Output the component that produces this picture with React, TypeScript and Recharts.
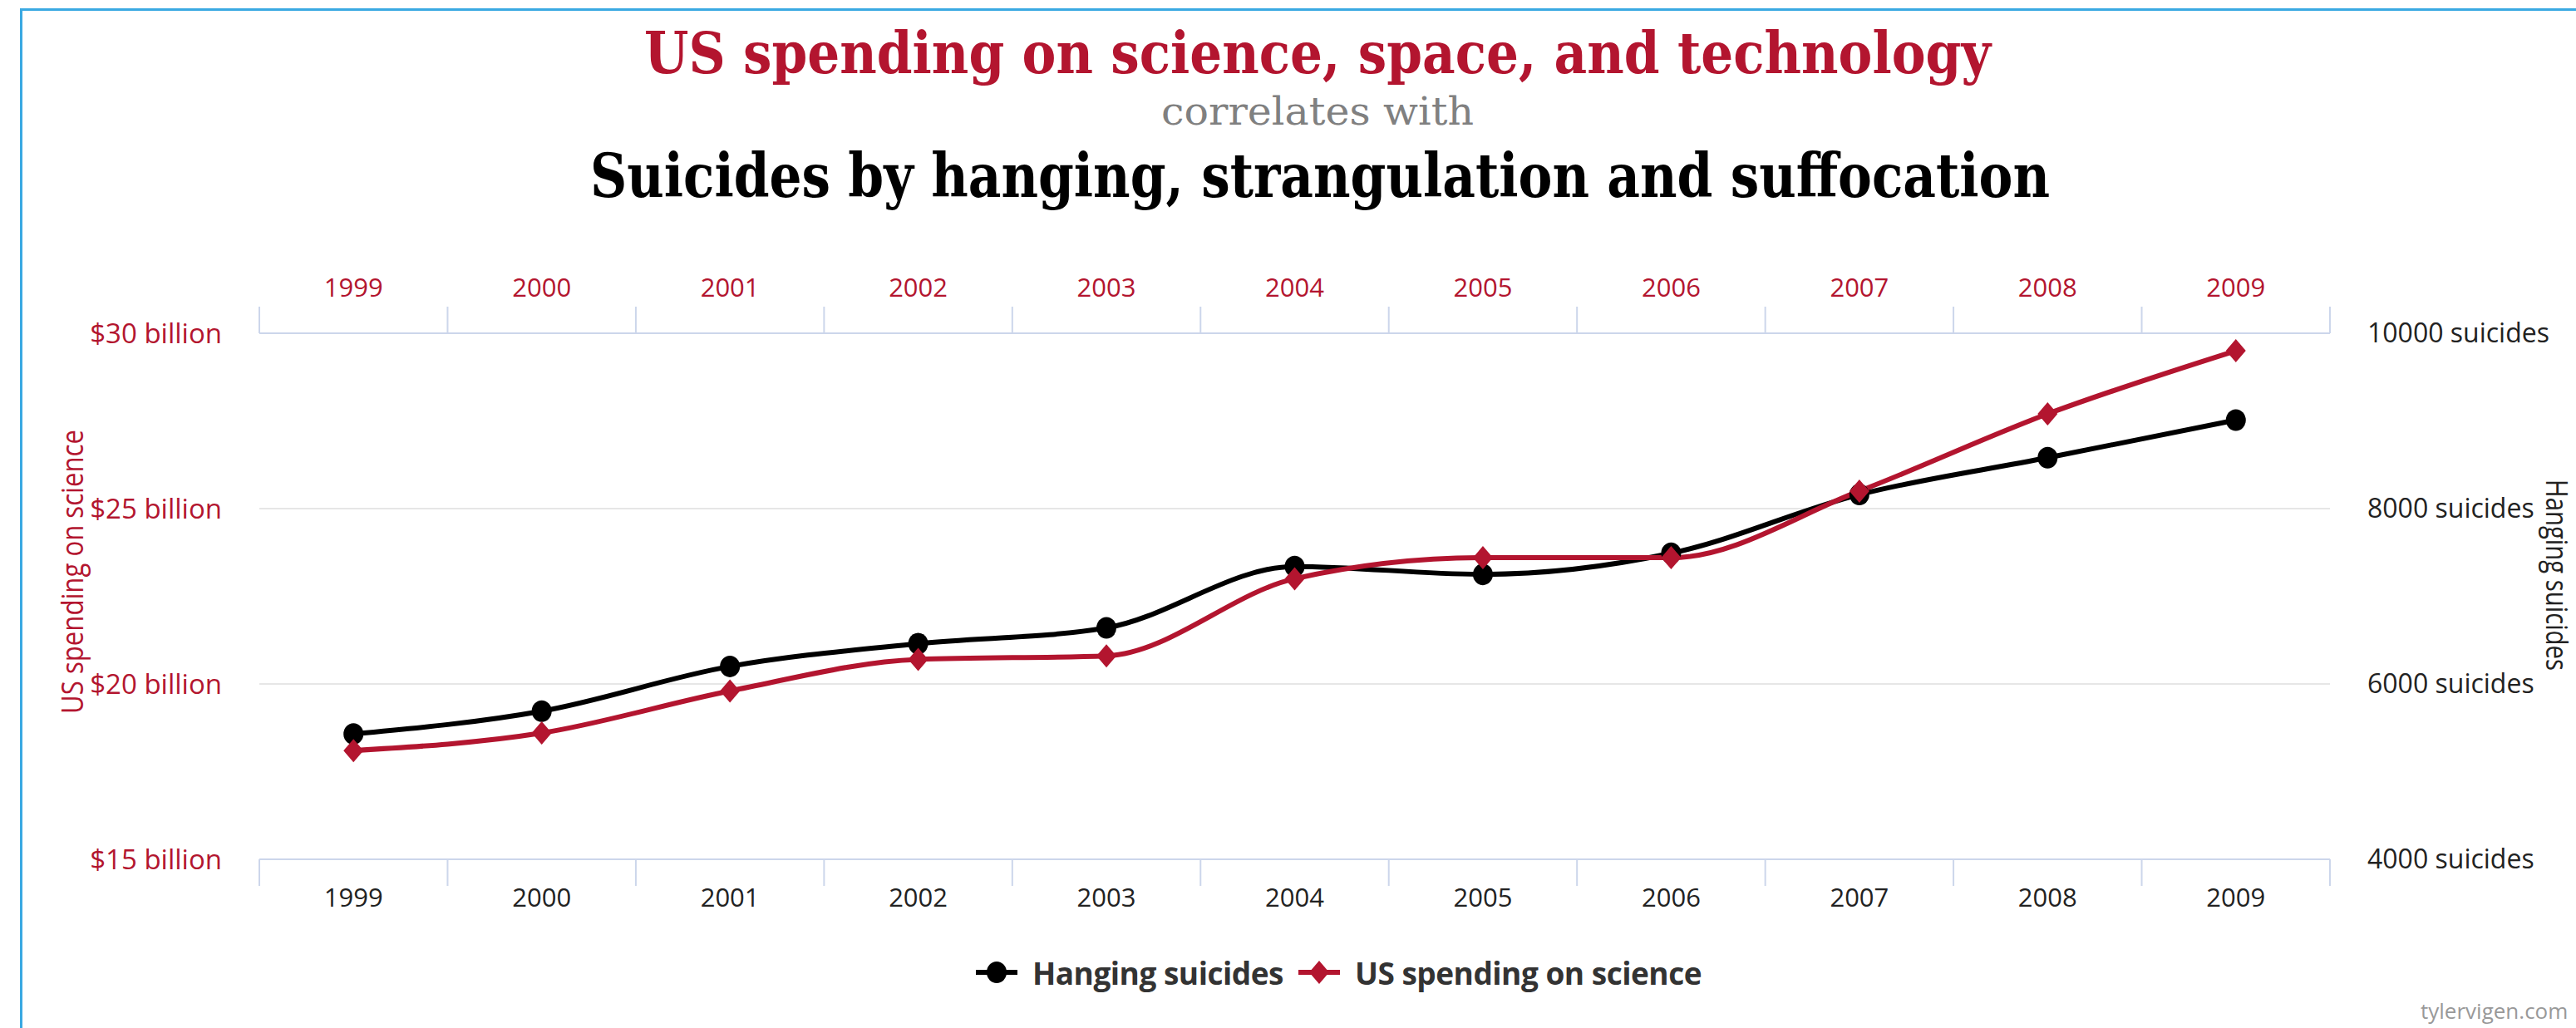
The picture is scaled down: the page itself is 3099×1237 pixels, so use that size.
import React from "react";
import {
  LineChart,
  Line,
  XAxis,
  YAxis,
  CartesianGrid,
  Legend,
} from "recharts";

const years = [1999, 2000, 2001, 2002, 2003, 2004, 2005, 2006, 2007, 2008, 2009];
// billions of dollars
const spending = [18.1, 18.6, 19.8, 20.7, 20.8, 23.0, 23.6, 23.6, 25.5, 27.7, 29.5];
// suicides per year
const suicides = [5430, 5690, 6200, 6460, 6640, 7340, 7250, 7490, 8160, 8580, 9010];

const spendingTicks = [15, 20, 25, 30];
const suicideTicks = [4000, 6000, 8000, 10000];

const W = 3099;
const H = 1237;
const RED = "#b3152f";
const AXIS = "#ccd6eb";
const FONT = "'Open Sans', sans-serif";
const TICK_SIZE = 32;
const TICK_MARGIN = 12;

const data = years.map((year, i) => ({
  year,
  spending: spending[i],
  suicides: suicides[i],
}));

// labels on the years, tick marks on the boundaries between them
const xTicks = [years[0] - 0.5, ...years.flatMap((y) => [y, y + 0.5])];

function YearTick(props: any) {
  const { x, y, payload, side } = props;
  const v = payload.value;
  if (!Number.isInteger(v)) {
    const y1 = side === "top" ? y + TICK_MARGIN : y - TICK_MARGIN - TICK_SIZE;
    return (
      <line x1={x} x2={x} y1={y1} y2={y1 + TICK_SIZE} stroke={AXIS} strokeWidth={2} />
    );
  }
  return (
    <text
      x={x}
      y={side === "top" ? y : y + 13}
      textAnchor="middle"
      fontFamily={FONT}
      fontSize={31}
      fill={side === "top" ? RED : "#222"}
    >
      {v}
    </text>
  );
}

function CircleDot(props: any) {
  const { cx, cy, index } = props;
  return <ellipse key={"c" + index} cx={cx} cy={cy} rx={12} ry={13} fill="#000" />;
}

function DiamondDot(props: any) {
  const { cx, cy, index } = props;
  return (
    <path
      key={"d" + index}
      d={`M${cx},${cy - 14} L${cx + 12},${cy} L${cx},${cy + 14} L${cx - 12},${cy} Z`}
      fill={RED}
    />
  );
}

function LegendIcon({ kind }: { kind: "circle" | "diamond" }) {
  const color = kind === "circle" ? "#000" : RED;
  return (
    <svg width={50} height={32} style={{ display: "block" }}>
      <line x1={0} x2={50} y1={16} y2={16} stroke={color} strokeWidth={6} />
      {kind === "circle" ? (
        <ellipse cx={25} cy={16} rx={12} ry={13} fill={color} />
      ) : (
        <path d="M25,2 L37,16 L25,30 L13,16 Z" fill={color} />
      )}
    </svg>
  );
}

function LegendContent() {
  const items: { label: string; kind: "circle" | "diamond" }[] = [
    { label: "Hanging suicides", kind: "circle" },
    { label: "US spending on science", kind: "diamond" },
  ];
  return (
    <div
      style={{
        display: "flex",
        justifyContent: "center",
        alignItems: "center",
        paddingLeft: 140,
        height: 60,
        fontFamily: FONT,
        fontWeight: 700,
        fontSize: 37,
        color: "#333",
      }}
    >
      {items.map((it) => (
        <div key={it.label} style={{ display: "flex", alignItems: "center", marginRight: 18 }}>
          <LegendIcon kind={it.kind} />
          <span style={{ marginLeft: 18, letterSpacing: -0.5 }}>{it.label}</span>
        </div>
      ))}
    </div>
  );
}

function LeftTitle(props: any) {
  const { viewBox } = props;
  const x = viewBox.x + 46;
  const y = 688;
  return (
    <text
      x={x}
      y={y}
      transform={`rotate(-90 ${x} ${y})`}
      textAnchor="middle"
      dominantBaseline="central"
      fontFamily={FONT}
      fontSize={36}
      fill={RED}
      textLength={342}
      lengthAdjust="spacingAndGlyphs"
    >
      US spending on science
    </text>
  );
}

function RightTitle(props: any) {
  const { viewBox } = props;
  const x = viewBox.x + 273;
  const y = 692;
  return (
    <text
      x={x}
      y={y}
      transform={`rotate(90 ${x} ${y})`}
      textAnchor="middle"
      dominantBaseline="central"
      fontFamily={FONT}
      fontSize={36}
      fill="#222"
      textLength={230}
      lengthAdjust="spacingAndGlyphs"
    >
      Hanging suicides
    </text>
  );
}

export default function App() {
  return (
    <div
      style={{
        position: "absolute",
        left: 0,
        top: 0,
        width: W,
        height: H,
        overflow: "hidden",
        background: "#fff",
      }}
    >
      <div
        style={{
          position: "absolute",
          left: 24,
          top: 10,
          width: W,
          height: H,
          borderLeft: "3px solid #3aa9e2",
          borderTop: "3px solid #3aa9e2",
        }}
      />
      <svg width={W} height={260} style={{ position: "absolute", left: 0, top: 0 }}>
        <text
          x={1585}
          y={88}
          textAnchor="middle"
          fontFamily="'DejaVu Serif', serif"
          fontWeight={700}
          fontSize={70}
          fill={RED}
          textLength={1620}
          lengthAdjust="spacingAndGlyphs"
        >
          US spending on science, space, and technology
        </text>
        <text
          x={1585}
          y={150}
          textAnchor="middle"
          fontFamily="'DejaVu Serif', serif"
          fontSize={46}
          fill="#808080"
          textLength={376}
          lengthAdjust="spacingAndGlyphs"
        >
          correlates with
        </text>
        <text
          x={1588}
          y={237}
          textAnchor="middle"
          fontFamily="'DejaVu Serif', serif"
          fontWeight={700}
          fontSize={72}
          fill="#000"
          textLength={1756}
          lengthAdjust="spacingAndGlyphs"
        >
          Suicides by hanging, strangulation and suffocation
        </text>
      </svg>
      <div style={{ position: "absolute", left: 0, top: 0 }}>
        <LineChart
          width={W}
          height={H}
          data={data}
          margin={{ top: 321, right: 0, bottom: 37, left: 40 }}
        >
          <CartesianGrid
            vertical={false}
            yAxisId="left"
            xAxisId="bottom"
            stroke="#e6e6e6"
            strokeWidth={2}
          />
          <XAxis
            xAxisId="top"
            orientation="top"
            dataKey="year"
            type="number"
            domain={[xTicks[0], xTicks[xTicks.length - 1]]}
            ticks={xTicks}
            interval={0}
            height={80}
            tickSize={TICK_SIZE}
            tickMargin={TICK_MARGIN}
            tickLine={false}
            axisLine={{ stroke: AXIS, strokeWidth: 2 }}
            tick={(p: any) => <YearTick key={"t" + p.index} {...p} side="top" />}
          />
          <XAxis
            xAxisId="bottom"
            orientation="bottom"
            dataKey="year"
            type="number"
            domain={[xTicks[0], xTicks[xTicks.length - 1]]}
            ticks={xTicks}
            interval={0}
            height={106}
            tickSize={TICK_SIZE}
            tickMargin={TICK_MARGIN}
            tickLine={false}
            axisLine={{ stroke: AXIS, strokeWidth: 2 }}
            tick={(p: any) => <YearTick key={"b" + p.index} {...p} side="bottom" />}
          />
          <YAxis
            yAxisId="left"
            orientation="left"
            width={272}
            domain={[15, 30]}
            ticks={spendingTicks}
            interval={0}
            tickSize={0}
            tickMargin={45}
            tickLine={false}
            axisLine={false}
            tickFormatter={(v) => `$${v} billion`}
            tick={{ fill: RED, fontSize: 33, fontFamily: FONT }}
            label={(p: any) => <LeftTitle {...p} />}
          />
          <YAxis
            yAxisId="right"
            orientation="right"
            width={296}
            domain={[4000, 10000]}
            ticks={suicideTicks}
            interval={0}
            tickSize={0}
            tickMargin={45}
            tickLine={false}
            axisLine={false}
            tickFormatter={(v) => `${v} suicides`}
            tick={{ fill: "#222", fontSize: 32, fontFamily: FONT }}
            label={(p: any) => <RightTitle {...p} />}
          />
          <Legend
            verticalAlign="bottom"
            height={60}
            wrapperStyle={{ left: 0, width: W }}
            content={() => <LegendContent />}
          />
          <Line
            xAxisId="bottom"
            yAxisId="right"
            dataKey="suicides"
            name="Hanging suicides"
            type="monotone"
            stroke="#000"
            strokeWidth={6}
            dot={(p: any) => <CircleDot key={"cd" + p.index} {...p} />}
            activeDot={false}
            isAnimationActive={false}
          />
          <Line
            xAxisId="bottom"
            yAxisId="left"
            dataKey="spending"
            name="US spending on science"
            type="monotone"
            stroke={RED}
            strokeWidth={6}
            dot={(p: any) => <DiamondDot key={"dd" + p.index} {...p} />}
            activeDot={false}
            isAnimationActive={false}
          />
        </LineChart>
      </div>
      <div
        style={{
          position: "absolute",
          left: 2912,
          top: 1198,
          fontFamily: FONT,
          fontSize: 26,
          color: "#999",
          whiteSpace: "nowrap",
        }}
      >
        tylervigen.com
      </div>
    </div>
  );
}
